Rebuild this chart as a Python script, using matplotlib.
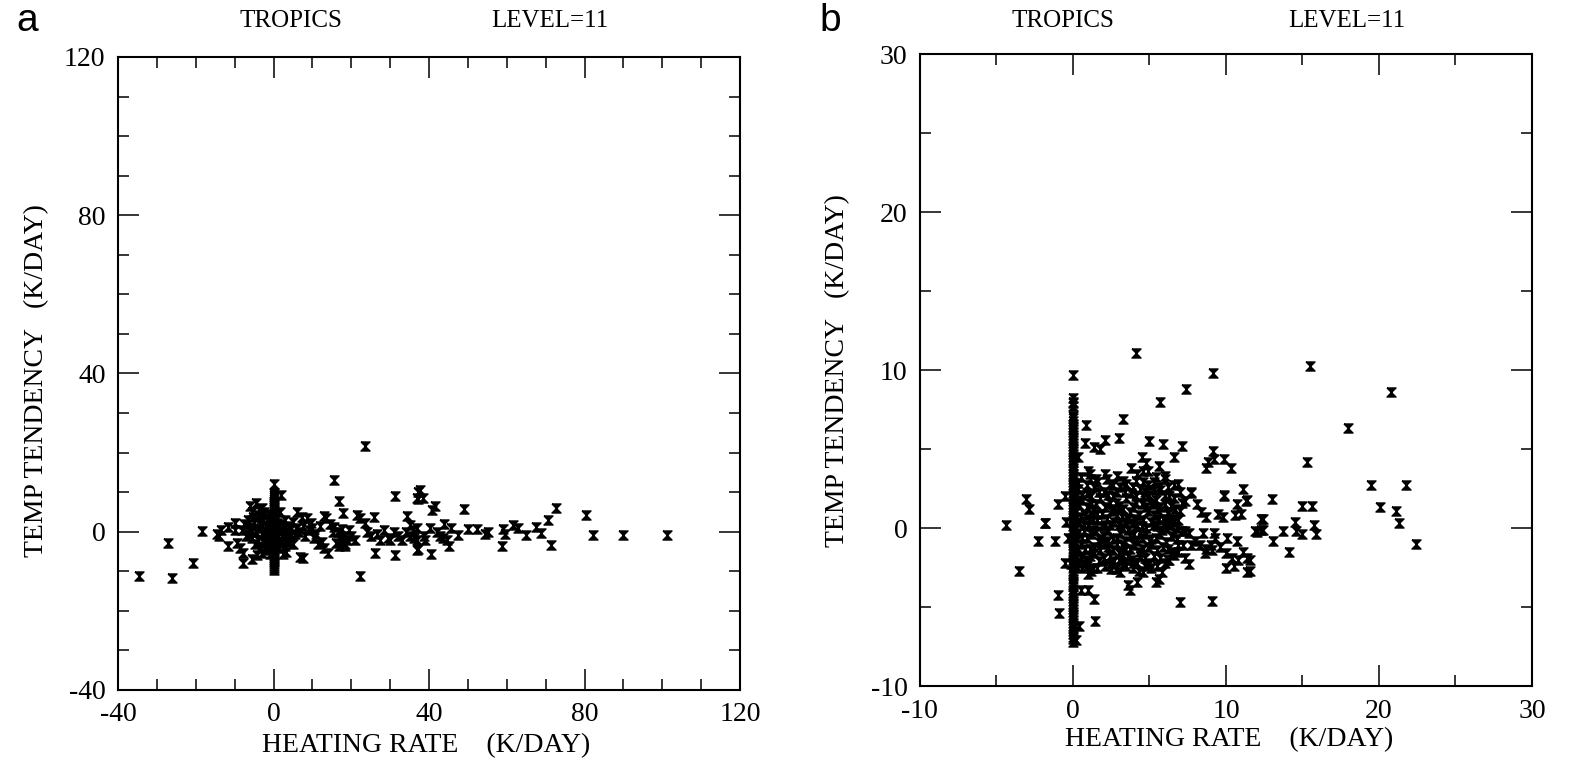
import matplotlib
matplotlib.use("Agg")
import matplotlib.pyplot as plt
from matplotlib.ticker import MultipleLocator

plt.rcParams["axes.unicode_minus"] = False
plt.rcParams["font.family"] = ["Liberation Serif", "DejaVu Serif"]

# ---- panel a: points (heating rate, temp tendency) ----
a_bar_y = [9.8, 8.8, 7.8, 6.8, 5.8, 4.8, 3.8, 2.8, 1.8, 0.8, -0.2, -1.2,
           -2.2, -3.2, -4.2, -5.2, -6.2, -7.2, -8.2, -9.2, -9.6, 12.0,
           9.3, 8.3, 7.3, 6.3, 5.3, 4.3, 3.3, 2.3, 1.3, 0.3, -0.7, -1.7,
           -2.7, -3.7, -4.7, -5.7, -6.7, -7.7, -8.7]

a_core = [(-6.0, 6.5), (-4.5, 7.2), (-3.0, 6.0), (-5.5, 5.0), (-4.0, 4.2),
          (-2.5, 5.0), (-1.5, 3.5), (-6.5, 3.0), (-5.0, 2.5), (-3.5, 2.0),
          (-2.0, 1.5), (-1.0, 0.5), (-6.0, 1.0), (-4.5, 0.0), (-3.0, -0.5),
          (-1.5, -1.0), (-5.5, -1.5), (-4.0, -2.2), (-2.5, -2.8), (-1.0, -2.0),
          (-6.5, -0.5), (-3.5, -4.0), (-2.0, -4.5), (-1.0, -5.5), (-7.0, -1.0),
          (-7.5, 2.0), (-8.0, 0.5), (-2.8, 3.0), (-0.8, 2.2), (-1.8, -3.5),
          (1.0, 3.5), (2.0, 2.0), (3.0, 3.0), (4.0, 1.5), (5.0, 2.5),
          (6.0, 1.0), (1.5, 0.5), (2.5, -0.5), (3.5, 0.0), (4.5, -1.0),
          (5.5, -0.5), (6.5, 0.0), (1.0, -1.5), (2.0, -2.5), (3.0, -3.5),
          (4.0, -2.5), (5.0, -3.0), (1.5, -4.0), (2.5, -5.5), (3.2, -5.0),
          (7.5, 1.5), (8.0, -1.0), (9.0, 0.5), (10.0, 1.0), (11.0, -0.5),
          (12.0, 1.5), (9.5, 2.2), (8.5, 3.5), (10.5, -1.5), (11.5, -3.0),
          (12.5, -2.5), (13.0, -4.0), (6.8, -6.3), (7.6, -6.6), (6.0, 5.0),
          (7.3, 3.8), (13.0, 4.0), (13.5, 3.5), (14.0, -5.3), (14.6, 2.0),
          (15.4, 0.0), (2.0, 9.3), (1.7, 5.0),
          (-5.2, 3.8), (-3.8, 5.6), (-2.2, -1.6), (-4.8, -3.2), (-5.8, 0.2),
          (-2.0, 0.2), (-3.2, 1.0), (-1.2, 4.5), (1.8, 1.2), (2.8, 0.8),
          (1.2, -2.8), (3.8, -1.5), (2.2, -1.2), (0.9, 2.3), (4.5, 0.8)]

a_mid = [(15.5, 1.3), (16.5, 0.0), (17.0, -1.5), (17.5, -2.5), (18.0, -1.0),
         (18.5, -3.0), (19.0, -2.0), (19.5, 0.5), (16.0, -2.8), (17.5, 0.8),
         (18.5, -3.7), (20.0, -1.0), (21.0, -2.0), (16.8, -3.5), (17.9, 4.8),
         (21.5, 4.3), (22.2, 3.5), (25.8, 3.8), (23.5, 2.2), (24.0, 0.0),
         (25.0, -1.0), (26.5, -0.5), (27.5, -2.0), (28.5, 0.5), (29.5, -1.5),
         (30.0, -2.0), (26.0, -5.3), (31.3, -5.8), (31.0, 0.0), (32.0, -1.0),
         (33.0, -2.0), (34.0, 0.0), (35.0, -1.0), (36.0, -1.5), (37.0, -2.0),
         (37.0, -4.7), (23.5, 21.7), (15.6, 13.1), (16.8, 7.8), (31.3, 9.1),
         (37.2, 10.0), (37.2, 8.3), (22.2, -11.3)]

a_left = [(-18.4, 0.3), (-27.1, -2.8), (-20.7, -8.0), (-34.6, -11.3),
          (-26.1, -11.6), (-14.0, -1.0), (-11.7, 1.2), (-9.9, 2.2), (-9.9, 0.5),
          (-11.7, -3.7), (-9.4, -2.8), (-8.6, -4.0), (-7.8, -5.3), (-7.8, -7.9),
          (-5.5, -7.0), (-4.3, -5.8), (-3.0, -5.3), (-14.5, -0.5), (-13.5, 0.5)]

a_right = [(37.7, 10.6), (36.9, 8.6), (38.4, 8.6), (41.5, 6.6), (40.8, 5.6),
           (49.0, 5.8), (34.3, 4.0), (35.0, 1.8), (35.9, 0.5), (36.9, 1.0),
           (38.7, -1.0), (39.0, -2.0), (40.2, 1.0), (37.2, -4.3), (40.5, -5.6),
           (42.0, 0.0), (42.8, -1.0), (43.6, -1.5), (44.6, -2.0), (43.9, 2.0),
           (45.6, 1.0), (45.1, -3.7), (47.5, -0.8), (50.0, 0.8), (52.3, 0.6),
           (54.4, -0.6), (55.2, 0.0), (59.0, 0.6), (59.5, -0.5), (58.8, -3.5),
           (61.6, 1.8), (62.9, 1.0), (65.0, -0.8), (67.5, 1.3), (68.8, -0.3),
           (70.6, 2.9), (72.7, 6.1), (71.4, -3.3), (80.4, 4.3), (82.1, -0.8),
           (89.9, -0.8), (101.2, -0.8)]

# ---- panel b ----
b_bar_y = [8.2, 8.0, 7.7, 7.1, 6.8, 6.4, 6.1, 5.7, 5.4, 5.0, 4.7, 4.3, 4.0,
           3.6, 3.3, 2.9, 2.6, 2.2, 1.9, 1.5, 1.2, 0.8, 0.5, 0.1, -0.2, -0.6,
           -0.9, -1.3, -1.6, -2.0, -2.3, -2.7, -3.0, -3.4, -3.7, -4.1, -4.4,
           -4.8, -5.1, -5.5, -5.8, -6.2, -6.5, -6.9, -7.2, 9.7,
           6.95, 6.6, 6.25, 5.9, 5.55, 5.2, 4.85, 4.5, 4.15, 3.8, 3.45, 3.1,
           2.75, 2.4, 2.05, 1.7, 1.35, 1.0, 0.65, 0.3, -0.05, -0.4, -0.75,
           -1.1, -1.45, -1.8, -2.15, -2.5, -2.85, -3.2, -3.55, -3.9, -4.25,
           -4.6, -4.95, -5.3, -5.65, -6.0, -6.35, -6.7, -7.05, 7.9]

b_core = [(0.5, 3.2), (1.1, 3.4), (1.6, 2.9), (2.2, 3.1), (2.9, 3.3), (3.5, 2.8),
          (4.1, 3.0), (4.6, 3.6), (5.3, 2.9), (6.0, 3.1), (6.6, 2.7),
          (0.3, 2.5), (0.9, 2.2), (1.4, 2.6), (2.0, 2.3), (2.6, 2.0), (3.1, 2.6),
          (3.8, 2.2), (4.4, 2.5), (5.0, 2.1), (5.7, 2.4), (6.3, 2.0), (7.0, 2.3),
          (0.6, 1.8), (1.2, 1.5), (1.8, 1.9), (2.4, 1.6), (3.0, 1.4), (3.5, 1.9),
          (4.1, 1.6), (4.8, 1.3), (5.4, 1.8), (6.0, 1.5), (6.7, 1.2), (7.3, 1.7),
          (0.2, 1.1), (0.8, 0.8), (1.3, 1.2), (1.9, 0.9), (2.5, 1.1), (3.2, 0.7),
          (3.7, 1.0), (4.3, 0.8), (4.9, 1.1), (5.6, 0.6), (6.2, 0.9), (6.9, 0.5),
          (0.4, 0.4), (1.0, 0.1), (1.6, 0.5), (2.1, 0.2), (2.7, 0.4), (3.3, 0.0),
          (3.9, 0.3), (4.5, 0.1), (5.1, 0.4), (5.8, -0.1), (6.4, 0.2), (7.1, -0.2),
          (0.3, -0.3), (0.9, -0.6), (1.5, -0.2), (2.0, -0.5), (2.6, -0.7),
          (3.1, -0.3), (3.7, -0.5), (4.2, -0.8), (4.8, -0.4), (5.4, -0.6),
          (6.1, -0.9), (6.8, -0.7),
          (0.5, -1.0), (1.1, -1.3), (1.7, -0.9), (2.3, -1.2), (2.9, -1.0),
          (3.4, -1.4), (4.0, -1.1), (4.6, -1.3), (5.2, -1.0), (5.9, -1.2),
          (6.5, -1.5), (7.2, -1.1),
          (0.2, -1.7), (0.8, -2.0), (1.4, -1.6), (2.0, -1.9), (2.7, -2.1),
          (3.3, -1.7), (3.8, -2.0), (4.4, -1.8), (5.0, -2.2), (5.7, -1.9),
          (6.3, -2.0),
          (0.6, -2.5), (1.2, -2.7), (2.1, -2.4), (2.8, -2.6), (3.5, -2.4),
          (4.3, -2.7), (5.1, -2.5), (5.8, -2.8),
          (0.15, 0.6), (0.15, -0.9), (0.2, 2.0), (0.2, -2.4), (0.7, -0.2),
          (1.3, 0.6), (2.3, -0.1), (2.8, 1.6), (3.6, 0.6), (4.4, -0.3),
          (4.6, 2.0), (5.3, 0.2), (1.8, -1.4), (3.0, -1.6), (4.7, -2.4),
          (5.5, 1.2), (6.5, 0.6), (2.4, 2.8), (1.0, -2.2), (3.9, -2.5)]

b_core2 = [(0.35, 2.85), (0.95, 2.75), (1.5, 3.1), (2.6, 2.7), (3.3, 3.0),
           (3.9, 2.6), (4.9, 2.7), (5.6, 2.6), (6.2, 2.6),
           (0.6, 2.1), (1.2, 2.0), (1.7, 2.3), (2.3, 2.1), (2.9, 2.3), (3.4, 2.3),
           (4.1, 2.0), (4.7, 2.3), (5.3, 2.4), (6.0, 2.1), (6.6, 1.9),
           (0.4, 1.45), (0.9, 1.3), (1.5, 1.5), (2.1, 1.3), (2.7, 1.2), (3.3, 1.2),
           (3.9, 1.3), (4.5, 1.5), (5.1, 1.5), (5.7, 1.3), (6.4, 1.4), (7.0, 1.1),
           (0.5, 0.7), (1.1, 0.6), (1.6, 0.9), (2.2, 0.6), (2.9, 0.8), (3.4, 0.4),
           (4.0, 0.6), (4.6, 0.5), (5.3, 0.8), (5.9, 0.6), (6.6, 0.4),
           (0.2, 0.0), (0.7, 0.2), (1.3, -0.1), (1.9, 0.1), (2.4, 0.2), (3.0, 0.2),
           (3.6, -0.1), (4.2, 0.2), (4.8, 0.0), (5.5, 0.1), (6.1, 0.0), (6.7, -0.3),
           (0.6, -0.6), (1.2, -0.4), (1.8, -0.7), (2.3, -0.8), (2.9, -0.6),
           (3.4, -0.8), (4.0, -0.4), (4.5, -0.6), (5.1, -0.7), (5.7, -0.4),
           (6.4, -0.5),
           (0.3, -1.3), (0.8, -1.3), (1.4, -1.2), (2.0, -1.0), (2.6, -1.4),
           (3.2, -1.1), (3.7, -1.3), (4.3, -1.5), (4.9, -1.2), (5.5, -1.4),
           (6.2, -1.3), (6.9, -1.5),
           (0.5, -1.9), (1.1, -1.8), (1.7, -2.1), (2.4, -1.8), (3.0, -2.0),
           (3.6, -1.8), (4.1, -2.2), (4.7, -1.9), (5.3, -1.8), (6.0, -2.2),
           (0.3, -2.2), (0.9, -2.4), (1.6, -2.5), (2.5, -2.6), (3.1, -2.8),
           (3.9, -2.2), (4.6, -2.8), (5.5, -2.4)]

b_outer = [(4.1, 11.1), (9.15, 9.8), (7.4, 8.8), (5.7, 8.0), (3.3, 6.9),
           (0.85, 6.5), (0.8, 5.4), (1.4, 5.1), (1.8, 5.0), (2.1, 5.6), (3.0, 5.7),
           (5.0, 5.5), (5.9, 5.3), (7.1, 5.2), (4.5, 4.5), (4.8, 4.1), (6.6, 4.5),
           (5.6, 3.9), (9.15, 4.9), (9.2, 4.4), (8.8, 4.2), (8.7, 3.8), (9.9, 4.4),
           (10.3, 3.8), (11.1, 2.5), (11.4, 1.8), (0.3, 4.5), (1.0, 3.6),
           (1.1, 3.1), (2.1, 3.4), (3.8, 3.8), (4.2, 3.4), (4.6, 2.9), (4.9, 3.6),
           (5.4, 3.2), (6.0, 3.3), (6.9, 2.8), (7.7, 2.2), (9.9, 2.1),
           (-0.5, 2.0), (-1.0, 1.5), (-1.85, 0.34), (-1.2, -0.8), (-2.3, -0.8),
           (-0.45, 0.4), (-0.3, -0.6), (-0.5, -2.2), (-0.1, -2.3), (-1.0, -4.25),
           (-0.9, -5.4), (-3.1, 1.85), (-2.9, 1.2), (-4.4, 0.2), (-1.8, 0.3),
           (-3.5, -2.7),
           (0.5, -3.9), (1.0, -3.9), (1.4, -4.5), (1.45, -5.9), (0.4, -6.2),
           (0.2, -7.1), (3.6, -3.6), (3.7, -3.9), (4.2, -3.4), (5.4, -3.4),
           (5.6, -3.2), (7.0, -4.7), (9.1, -4.6), (1.0, -2.9), (1.3, -2.5),
           (2.4, -2.3), (3.3, -2.3), (4.2, -2.2), (5.0, -2.3), (6.2, -2.0),
           (6.6, -1.7), (7.3, -1.9), (7.6, -2.3), (7.7, -1.1), (6.9, -1.1),
           (6.2, 0.3), (6.8, 0.0), (7.3, -0.2), (7.6, -0.3), (6.2, 1.0),
           (7.1, 1.6), (7.7, 2.3), (8.1, 1.5), (8.4, 1.0), (8.0, -0.8),
           (8.3, -1.1), (8.7, -1.3), (9.1, -1.4), (9.6, -1.2), (10.0, -1.6),
           (10.4, -1.9), (10.5, -2.4), (10.0, -2.5), (10.8, -2.0), (11.1, -1.5),
           (11.4, -1.9), (11.4, -2.8), (8.7, 0.7), (9.5, 0.9), (9.8, 0.7),
           (10.6, 0.8), (11.0, 0.9), (8.5, -0.3), (9.2, -0.3), (9.3, -0.6),
           (10.1, -0.6), (10.7, -0.8), (9.9, 2.0), (10.7, 1.5), (11.3, 1.7),
           (12.0, -0.25), (12.3, -0.1), (12.3, 0.6), (8.6, -1.6), (9.0, -1.1)]

b_far = [(15.5, 10.25), (20.8, 8.6), (18.0, 6.3), (15.3, 4.2), (19.5, 2.7),
         (21.8, 2.7), (13.0, 1.85), (15.0, 1.4), (15.6, 1.4), (20.1, 1.35),
         (21.1, 1.1), (21.3, 0.3), (22.4, -1.0), (12.4, 0.6), (12.4, -0.1),
         (11.9, -0.2), (13.1, -0.8), (13.7, -0.2), (14.5, 0.4), (14.6, -0.2),
         (15.0, -0.4), (15.75, 0.2), (15.9, -0.4), (14.1, -1.5), (11.6, -2.0),
         (11.6, -2.7)]

# hourglass-looking "x" as printed by the old plotter
HOURGLASS = [(-1, 1), (1, 1), (-1, -1), (1, -1), (-1, 1)]


def draw_points(ax, pts, ms=6.5):
    xs = [p[0] for p in pts]
    ys = [p[1] for p in pts]
    ax.plot(xs, ys, linestyle="none", marker=HOURGLASS, ms=ms,
            color="black", mew=1.0)


def style_axes(ax, lim, major, minor):
    ax.set_xlim(*lim)
    ax.set_ylim(*lim)
    ax.xaxis.set_major_locator(MultipleLocator(major))
    ax.yaxis.set_major_locator(MultipleLocator(major))
    ax.xaxis.set_minor_locator(MultipleLocator(minor))
    ax.yaxis.set_minor_locator(MultipleLocator(minor))
    ax.tick_params(which="both", direction="in", top=True, right=True,
                   labelsize=20, width=1.1)
    ax.tick_params(which="major", length=15, pad=9)
    ax.tick_params(which="minor", length=8)
    for s in ax.spines.values():
        s.set_linewidth(1.5)


fig = plt.figure(figsize=(15.72, 7.62), dpi=100)
ax_a = fig.add_axes([0.0751, 0.0945, 0.3957, 0.8307])
ax_b = fig.add_axes([0.5852, 0.0997, 0.3893, 0.8294])

draw_points(ax_a, [(0.0, y) for y in a_bar_y])
for group in (a_core, a_mid, a_left, a_right):
    draw_points(ax_a, group)
style_axes(ax_a, (-40, 120), 40, 10)

draw_points(ax_b, [(0.0, y) for y in b_bar_y])
for group in (b_core, b_core2, b_outer, b_far):
    draw_points(ax_b, group)
style_axes(ax_b, (-10, 30), 10, 5)

# titles, labels
for x, txt in [(0.185, "TROPICS"), (0.350, "LEVEL=11"),
               (0.676, "TROPICS"), (0.857, "LEVEL=11")]:
    fig.text(x, 0.972, txt, fontsize=18, ha="center", va="center")
fig.text(0.017, 0.972, "a", fontsize=28, ha="center", va="center",
         family="Liberation Sans")
fig.text(0.528, 0.972, "b", fontsize=28, ha="center", va="center",
         family="Liberation Sans")

fig.text(0.271, 0.022, "HEATING RATE    (K/DAY)", fontsize=20,
         ha="center", va="center")
fig.text(0.782, 0.029, "HEATING RATE    (K/DAY)", fontsize=20,
         ha="center", va="center")
fig.text(0.023, 0.501, "TEMP TENDENCY   (K/DAY)", fontsize=20,
         ha="center", va="center", rotation=90)
fig.text(0.533, 0.514, "TEMP TENDENCY   (K/DAY)", fontsize=20,
         ha="center", va="center", rotation=90)

fig.savefig("out.png", dpi=100)
